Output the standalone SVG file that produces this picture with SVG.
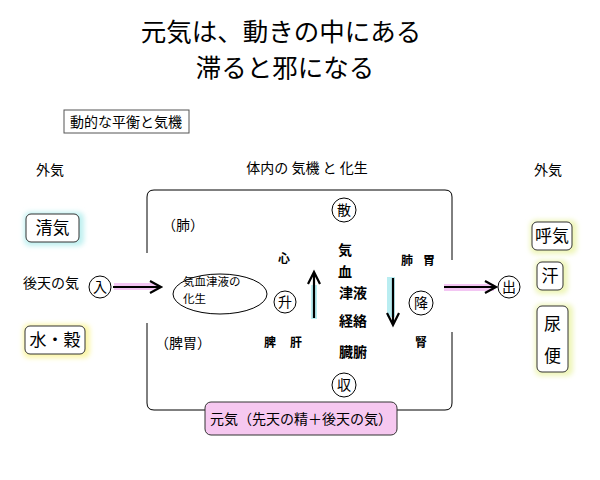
<svg xmlns="http://www.w3.org/2000/svg" width="600" height="480" viewBox="0 0 600 480">
<defs>
<style>
text{font-family:"Noto Sans CJK JP","Noto Sans CJK SC",sans-serif;fill:#000}
.t{font-size:25.5px}
.m{font-size:14px}
.s{font-size:12px}
.e{font-size:11.5px}
.b{font-size:17px}
.c{fill:#fff;stroke:#000;stroke-width:1}
.ln{stroke:#000;stroke-width:1;fill:none}
.ar{stroke:#000;stroke-width:2.2;fill:none}
</style>
<filter id="blur" x="-30%" y="-30%" width="160%" height="160%"><feGaussianBlur stdDeviation="2.5"/></filter>
</defs>

<g id="title">
<text class="t" x="281" y="41" text-anchor="middle">元気は、動きの中にある</text>
<text class="t" x="285" y="77" text-anchor="middle">滞ると邪になる</text>
</g>

<g id="label-box">
<rect x="64" y="110" width="125" height="23" fill="#fff" stroke="#555"/>
<text class="m" x="126" y="127" text-anchor="middle">動的な平衡と気機</text>
</g>

<g id="body-label"><text class="m" x="307" y="173" text-anchor="middle">体内の 気機 と 化生</text></g>
<g id="out-left"><text class="m" x="50" y="175" text-anchor="middle">外気</text></g>
<g id="out-right"><text class="m" x="548" y="175" text-anchor="middle">外気</text></g>

<g id="frame">
<path class="ln" d="M147,253 V197 Q147,190 154,190 H445 Q452,190 452,197 V260"/>
<path class="ln" d="M147,323 V403 Q147,410 154,410 H205"/>
<path class="ln" d="M397,410 H445 Q452,410 452,403 V332"/>
</g>

<g id="seiki">
<rect x="24" y="212" width="60" height="34" rx="6" fill="#bff0f0" filter="url(#blur)"/>
<rect x="26" y="214" width="53" height="28" rx="5" fill="#fff" stroke="#333"/>
<text class="b" x="52.5" y="234" text-anchor="middle">清気</text>
</g>

<g id="koten"><text class="m" x="51" y="288" text-anchor="middle">後天の気</text></g>

<g id="nyu">
<circle class="c" cx="100" cy="287" r="11"/>
<text class="m" x="100" y="292" text-anchor="middle">入</text>
</g>

<g id="suikoku">
<rect x="23" y="324" width="67" height="34" rx="6" fill="#fbf6a8" filter="url(#blur)"/>
<rect x="25" y="326" width="60" height="28" rx="5" fill="#fff" stroke="#333"/>
<text class="b" x="55" y="346" text-anchor="middle">水・穀</text>
</g>

<g id="kaesei">
<ellipse cx="220" cy="294" rx="47" ry="20" fill="#fff" stroke="#000"/>
<text class="e" x="183" y="286">気血津液の</text>
<text class="e" x="183" y="303">化生</text>
</g>

<g id="hai-l"><text class="m" x="162" y="230">（肺）</text></g>
<g id="hii"><text class="m" x="155" y="348">（脾胃）</text></g>

<g id="shin"><text class="s" x="284" y="263" text-anchor="middle" font-weight="bold">心</text></g>
<g id="sho">
<circle class="c" cx="285" cy="302" r="11"/>
<text class="m" x="285" y="307" text-anchor="middle">升</text>
</g>
<g id="hikan">
<text class="s" x="270" y="347" text-anchor="middle" font-weight="bold">脾</text>
<text class="s" x="296" y="347" text-anchor="middle" font-weight="bold">肝</text>
</g>

<g id="san">
<circle class="c" cx="344" cy="210" r="12"/>
<text class="m" x="344" y="215" text-anchor="middle">散</text>
</g>
<g id="center">
<text class="m" x="345" y="255" text-anchor="middle" font-weight="bold">気</text>
<text class="m" x="345" y="277" text-anchor="middle" font-weight="bold">血</text>
<text class="m" x="353" y="298" text-anchor="middle" font-weight="bold">津液</text>
<text class="m" x="353" y="326" text-anchor="middle" font-weight="bold">経絡</text>
<text class="m" x="353" y="357" text-anchor="middle" font-weight="bold">臓腑</text>
</g>
<g id="shu">
<circle class="c" cx="344" cy="385" r="12"/>
<text class="m" x="344" y="390" text-anchor="middle">収</text>
</g>

<g id="haii">
<text class="s" x="407" y="265" text-anchor="middle" font-weight="bold">肺</text>
<text class="s" x="429" y="265" text-anchor="middle" font-weight="bold">胃</text>
</g>
<g id="ko">
<circle class="c" cx="421" cy="303" r="12"/>
<text class="m" x="421" y="308" text-anchor="middle">降</text>
</g>
<g id="jin"><text class="s" x="421" y="347" text-anchor="middle" font-weight="bold">腎</text></g>

<g id="shutsu">
<circle class="c" cx="509" cy="287" r="11"/>
<text class="m" x="509" y="292" text-anchor="middle">出</text>
</g>

<g id="koki">
<rect x="530" y="220" width="47" height="34" rx="6" fill="#eef5b8" filter="url(#blur)"/>
<rect x="532" y="222" width="40" height="28" rx="5" fill="#fff" stroke="#333"/>
<text class="b" x="552" y="242" text-anchor="middle">呼気</text>
</g>
<g id="kan">
<rect x="535" y="260" width="33" height="34" rx="6" fill="#eef5b8" filter="url(#blur)"/>
<rect x="537" y="262" width="26" height="28" rx="5" fill="#fff" stroke="#333"/>
<text class="b" x="550" y="282" text-anchor="middle">汗</text>
</g>
<g id="nyoben">
<rect x="535" y="304" width="38" height="72" rx="6" fill="#eef5b8" filter="url(#blur)"/>
<rect x="537" y="306" width="31" height="66" rx="5" fill="#fff" stroke="#333"/>
<text class="b" x="552.5" y="330" text-anchor="middle">尿</text>
<text class="b" x="552.5" y="362" text-anchor="middle">便</text>
</g>

<g id="genki">
<rect x="205" y="402" width="192" height="33" rx="6" fill="#f6c8f0" stroke="#333"/>
<text class="m" x="301" y="424" text-anchor="middle">元気（先天の精＋後天の気）</text>
</g>

<g id="connectors">
<rect x="114" y="283" width="42" height="7" fill="#f0b8f0" opacity="0.8"/>
<path class="ar" d="M113,287 H160 M150,281 L161,287 L150,293"/>
<rect x="311" y="285" width="6" height="34" fill="#a8e8ee" opacity="0.8"/>
<path class="ar" d="M314,318 V273 M308,284 L314,272 L320,284"/>
<rect x="387" y="277" width="8" height="40" fill="#a8e8ee" opacity="0.8"/>
<path class="ar" d="M393,278 V324 M387,313 L393,325 L399,313"/>
<rect x="444" y="284" width="50" height="7" fill="#f0b8f0" opacity="0.8"/>
<path class="ar" d="M444,287 H495 M485,281 L496,287 L485,293"/>
</g>
</svg>
